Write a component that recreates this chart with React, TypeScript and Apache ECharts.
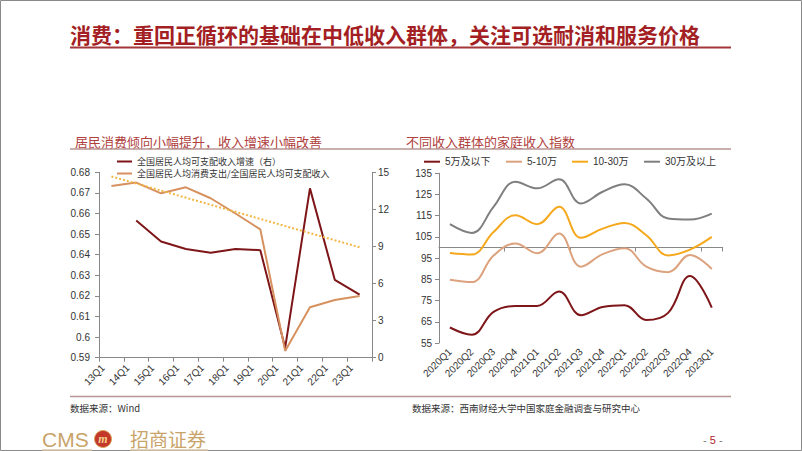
import React, { useEffect, useRef } from "react";
import * as echarts from "echarts";

// ---------- data ----------
const leftCategories = ["13Q1", "14Q1", "15Q1", "16Q1", "17Q1", "18Q1", "19Q1", "20Q1", "21Q1", "22Q1", "23Q1"];
const incomeGrowth = [null, 11.1, 9.4, 8.8, 8.5, 8.8, 8.7, 0.8, 13.7, 6.3, 5.1];
const consumptionRatio = [0.6733, 0.675, 0.6698, 0.6727, 0.6674, 0.66, 0.6523, 0.5933, 0.6145, 0.618, 0.62];
const ratioTrend = [0.678, null, null, null, null, null, null, null, null, null, 0.6436];
const leftTicks = { min: 0.59, max: 0.68, interval: 0.01 };
const rightTicksLeftChart = { min: 0, max: 15, interval: 3 };

const rightCategories = [
  "2020Q1", "2020Q2", "2020Q3", "2020Q4", "2021Q1", "2021Q2", "2021Q3",
  "2021Q4", "2022Q1", "2022Q2", "2022Q3", "2022Q4", "2023Q1",
];
const under5 = [62.3, 58.9, 69.7, 72.5, 72.5, 79.3, 68.1, 72.0, 72.8, 65.8, 69.2, 86.6, 71.7];
const from5to10 = [84.8, 83.7, 96.2, 101.9, 97.3, 106.6, 91.0, 96.9, 99.7, 91.0, 88.4, 96.5, 89.9];
const from10to30 = [97.4, 96.7, 107.3, 115.2, 111.0, 119.2, 104.6, 108.9, 111.6, 105.8, 96.3, 99.0, 105.0];
const above30 = [111.0, 106.9, 119.2, 131.0, 127.9, 132.2, 120.8, 126.3, 129.8, 123.1, 113.7, 113.2, 116.0];
const indexTicks = { min: 55, max: 135, interval: 10, base: 100 };

const seriesNamesLeft = ["全国居民人均可支配收入增速（右）", "全国居民人均消费支出/全国居民人均可支配收入"];
const seriesNamesRight = ["5万及以下", "5-10万", "10-30万", "30万及以上"];

const mainTitle = "消费：重回正循环的基础在中低收入群体，关注可选耐消和服务价格";
const leftTitle = "居民消费倾向小幅提升，收入增速小幅改善";
const rightTitle = "不同收入群体的家庭收入指数";
const leftSource = "数据来源：Wind";
const rightSource = "数据来源：西南财经大学中国家庭金融调查与研究中心";

// ---------- styles ----------
const C_DARKRED = "#7E1518";
const C_ORANGE = "#D6915F";
const C_TAN = "#DCA27E";
const C_YELLOW = "#F5A81C";
const C_GRAY = "#7F7F7F";
const C_TREND = "#F2B646";
const AXIS = "#888888";
const LABEL = "#333333";
const FONT = "Liberation Sans, Noto Sans CJK SC, sans-serif";
const CJK = "Noto Sans CJK SC, sans-serif";

const LG = { left: 99, top: 172.3, width: 273, height: 185.4 };
const RG = { left: 439, top: 173.3, width: 283.7, height: 169.7 };
const baseOffset = -((indexTicks.base - indexTicks.min) / (indexTicks.max - indexTicks.min)) * RG.height;

const axisLabel = { color: LABEL, fontSize: 10, fontFamily: FONT };

function buildOption() {
  const rightColors = [C_DARKRED, C_TAN, C_YELLOW, C_GRAY];
  const rightData = [under5, from5to10, from10to30, above30];
  const rightLegendLeft = [424, 506, 572, 644];

  return {
    animation: false,
    backgroundColor: "#ffffff",
    grid: [
      { left: LG.left, top: LG.top, width: LG.width, height: LG.height },
      { left: RG.left, top: RG.top, width: RG.width, height: RG.height },
    ],
    legend: [
      {
        orient: "vertical",
        left: 117,
        top: 156.5,
        padding: 0,
        itemGap: 2,
        itemWidth: 15,
        itemHeight: 2,
        icon: "rect",
        data: seriesNamesLeft,
        textStyle: { color: LABEL, fontSize: 9, fontFamily: CJK, lineHeight: 10 },
      },
      ...seriesNamesRight.map((n, i) => ({
        left: rightLegendLeft[i],
        top: 155.7,
        padding: 0,
        itemWidth: 16,
        itemHeight: 2,
        icon: "rect",
        data: [n],
        textStyle: { color: LABEL, fontSize: 10, fontFamily: FONT, lineHeight: 12 },
      })),
    ],
    xAxis: [
      {
        type: "category",
        gridIndex: 0,
        data: leftCategories,
        boundaryGap: true,
        axisLine: { lineStyle: { color: AXIS, width: 1 } },
        axisTick: { show: true, length: 4, lineStyle: { color: AXIS } },
        axisLabel: { ...axisLabel, rotate: 45, interval: 0, margin: 0, padding: [0, 12, 0, 0] },
      },
      {
        type: "category",
        gridIndex: 1,
        data: rightCategories,
        boundaryGap: true,
        axisLine: { show: false },
        axisTick: { show: false },
        axisLabel: { ...axisLabel, rotate: 45, interval: 0, margin: 7 },
      },
      {
        type: "category",
        gridIndex: 1,
        data: rightCategories,
        boundaryGap: true,
        position: "bottom",
        offset: baseOffset,
        axisLine: { show: true, lineStyle: { color: AXIS, width: 1 } },
        axisTick: { show: true, length: 4, lineStyle: { color: AXIS } },
        axisLabel: { show: false },
      },
    ],
    yAxis: [
      {
        type: "value",
        gridIndex: 0,
        min: leftTicks.min,
        max: leftTicks.max,
        interval: leftTicks.interval,
        axisLine: { show: true, lineStyle: { color: AXIS } },
        axisTick: { show: true, length: 4, lineStyle: { color: AXIS } },
        splitLine: { show: false },
        axisLabel: {
          ...axisLabel,
          margin: 9,
          formatter: (v: number) => String(+v.toFixed(2)),
        },
      },
      {
        type: "value",
        gridIndex: 0,
        position: "right",
        min: rightTicksLeftChart.min,
        max: rightTicksLeftChart.max,
        interval: rightTicksLeftChart.interval,
        axisLine: { show: true, lineStyle: { color: AXIS } },
        axisTick: { show: true, length: 4, lineStyle: { color: AXIS } },
        splitLine: { show: false },
        axisLabel: { ...axisLabel, margin: 6 },
      },
      {
        type: "value",
        gridIndex: 1,
        min: indexTicks.min,
        max: indexTicks.max,
        interval: indexTicks.interval,
        axisLine: { show: true, lineStyle: { color: AXIS } },
        axisTick: { show: true, length: 4, lineStyle: { color: AXIS } },
        splitLine: { show: false },
        axisLabel: { ...axisLabel, margin: 7 },
      },
    ],
    series: [
      {
        name: seriesNamesLeft[0],
        type: "line",
        xAxisIndex: 0,
        yAxisIndex: 1,
        data: incomeGrowth,
        symbol: "none",
        lineStyle: { color: C_DARKRED, width: 2 },
        itemStyle: { color: C_DARKRED },
      },
      {
        name: seriesNamesLeft[1],
        type: "line",
        xAxisIndex: 0,
        yAxisIndex: 0,
        data: consumptionRatio,
        symbol: "none",
        lineStyle: { color: C_ORANGE, width: 2 },
        itemStyle: { color: C_ORANGE },
      },
      {
        name: "trend",
        type: "line",
        xAxisIndex: 0,
        yAxisIndex: 0,
        data: ratioTrend,
        connectNulls: true,
        symbol: "none",
        lineStyle: { color: C_TREND, width: 2, type: "dotted" },
        itemStyle: { color: C_TREND },
      },
      ...seriesNamesRight.map((n, i) => ({
        name: n,
        type: "line",
        xAxisIndex: 1,
        yAxisIndex: 2,
        data: rightData[i],
        smooth: 0.4,
        symbol: "none",
        lineStyle: { color: rightColors[i], width: 2 },
        itemStyle: { color: rightColors[i] },
      })),
    ],
    graphic: [
      {
        type: "rect",
        shape: { x: 0.5, y: 0.5, width: 801, height: 450 },
        style: { fill: "none", stroke: "#8a8a8a", lineWidth: 1 },
        silent: true,
      },
      {
        type: "text",
        x: 70,
        y: 33.5,
        style: {
          text: mainTitle,
          fill: "#A31F24",
          font: `bold 21px ${CJK}`,
          verticalAlign: "middle",
        },
      },
      {
        type: "line",
        shape: { x1: 70, y1: 47.5, x2: 731, y2: 47.5 },
        style: { stroke: "#A3373A", lineWidth: 2 },
      },
      {
        type: "text",
        x: 75,
        y: 141,
        style: { text: leftTitle, fill: "#B0413E", font: `13px ${CJK}`, verticalAlign: "middle" },
      },
      {
        type: "text",
        x: 406,
        y: 141,
        style: { text: rightTitle, fill: "#B0413E", font: `13px ${CJK}`, verticalAlign: "middle" },
      },
      {
        type: "line",
        shape: { x1: 70, y1: 149, x2: 731, y2: 149 },
        style: { stroke: "#B99595", lineWidth: 1.5 },
      },
      {
        type: "line",
        shape: { x1: 70, y1: 396.5, x2: 731, y2: 396.5 },
        style: { stroke: "#B99595", lineWidth: 1.5 },
      },
      {
        type: "text",
        x: 70,
        y: 408,
        style: { text: leftSource, fill: "#333", font: `9.5px ${CJK}`, verticalAlign: "middle" },
      },
      {
        type: "text",
        x: 412,
        y: 408,
        style: { text: rightSource, fill: "#333", font: `9.5px ${CJK}`, verticalAlign: "middle" },
      },
      {
        type: "text",
        x: 42,
        y: 439,
        style: { text: "CMS", fill: "#C9A46A", font: `21px Liberation Sans, sans-serif`, verticalAlign: "middle" },
      },
      {
        type: "circle",
        shape: { cx: 103, cy: 439, r: 8.5 },
        style: { fill: "#C4372B", stroke: "#D9A45A", lineWidth: 1 },
      },
      {
        type: "text",
        x: 103,
        y: 439,
        style: {
          text: "m",
          fill: "#F3D08A",
          font: `italic bold 12px Liberation Serif, serif`,
          align: "center",
          verticalAlign: "middle",
        },
      },
      {
        type: "text",
        x: 130,
        y: 438.5,
        style: { text: "招商证券", fill: "#C9A46A", font: `19px ${CJK}`, verticalAlign: "middle" },
      },
      {
        type: "line",
        shape: { x1: 42, y1: 450, x2: 92, y2: 450 },
        style: { stroke: "#DCC7A4", lineWidth: 1.5 },
      },
      {
        type: "line",
        shape: { x1: 130, y1: 450, x2: 208, y2: 450 },
        style: { stroke: "#DCC7A4", lineWidth: 1.5 },
      },
      {
        type: "text",
        x: 703,
        y: 440,
        style: {
          text: "{d|- }{n|5}{d| -}",
          font: `11px ${FONT}`,
          verticalAlign: "middle",
          rich: {
            d: { fill: "#777", fontSize: 11, fontFamily: FONT },
            n: { fill: "#B0262A", fontSize: 11, fontFamily: FONT },
          },
        },
      },
    ],
  };
}

export default function App() {
  const ref = useRef<HTMLDivElement>(null);
  useEffect(() => {
    document.body.style.margin = "0";
    const chart = echarts.init(ref.current!, null, { renderer: "svg" });
    chart.setOption(buildOption() as any);
    return () => chart.dispose();
  }, []);
  return (
    <div
      ref={ref}
      style={{ position: "fixed", left: 0, top: 0, width: 802, height: 451, background: "#fff" }}
    />
  );
}
